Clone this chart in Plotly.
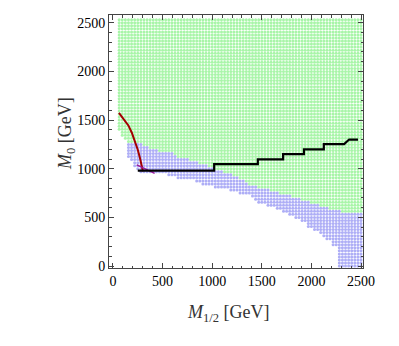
import numpy as np
import plotly.graph_objs as go

# scan grid: 31.25 GeV steps, columns k = 2..80 along M_1/2, rows j along M_0
grid_step = 31.25
col_index = list(range(2, 81))
top_row = 81

# lowest green row per column (grid units of M_0)
green_floor = [45, 43, 42, 41, 41, 41, 41, 41, 40, 40, 39, 39, 39, 38, 38, 38, 38, 38, 37, 36,
               36, 36, 36, 35, 35, 35, 34, 34, 34, 33, 33, 32, 32, 32, 31, 31, 31, 30, 30, 29,
               29, 28, 27, 27, 27, 26, 26, 26, 26, 25, 25, 25, 24, 24, 24, 24, 23, 23, 23, 22,
               22, 22, 21, 21, 21, 20, 20, 20, 19, 19, 19, 19, 18, 18, 18, 18, 18, 18, 18]
# lowest blue row per column (blue fills between blue_floor and green_floor)
blue_floor = [45, 43, 42, 36, 35, 33, 32, 31, 31, 31, 31, 31, 31, 31, 31, 31, 30, 30, 30, 29,
              29, 29, 29, 29, 29, 28, 28, 27, 27, 27, 27, 26, 26, 26, 26, 26, 25, 25, 25, 24,
              24, 24, 24, 23, 22, 21, 21, 21, 20, 20, 20, 19, 19, 18, 18, 17, 17, 16, 16, 15,
              15, 13, 13, 12, 12, 11, 10, 9, 9, 7, 7, 0, 0, 0, 0, 0, 0, 0, 0]

# red curve
red_x = [60, 110, 155, 190, 222, 250, 272, 290, 302]
red_y = [1575, 1510, 1445, 1370, 1280, 1195, 1110, 1030, 975]
# purple segment
purple_x = [240, 420]
purple_y = [1040, 952]
# black staircase
stair_x = [250, 1020, 1020, 1460, 1460, 1715, 1715, 1925, 1925, 2125, 2125, 2330, 2380, 2470]
stair_y = [980, 980, 1048, 1048, 1097, 1097, 1150, 1150, 1200, 1200, 1254, 1254, 1300, 1300]

gx, gy, bx, by = [], [], [], []
for k, g, b in zip(col_index, green_floor, blue_floor):
    for j in range(g, top_row + 1):
        gx.append(k * grid_step)
        gy.append(j * grid_step)
    for j in range(b, g):
        bx.append(k * grid_step)
        by.append(j * grid_step)

fig = go.Figure()
fig.add_trace(go.Scatter(x=gx, y=gy, mode='markers',
                         marker=dict(color='#a8f5a8', size=3.0, line=dict(width=0)),
                         hoverinfo='skip'))
fig.add_trace(go.Scatter(x=bx, y=by, mode='markers',
                         marker=dict(color='#aeaef6', size=3.0, line=dict(width=0)),
                         hoverinfo='skip'))
fig.add_trace(go.Scatter(x=red_x, y=red_y, mode='lines', line=dict(color='#a30000', width=2)))
fig.add_trace(go.Scatter(x=purple_x, y=purple_y, mode='lines', line=dict(color='#9a1a9a', width=1.5)))
fig.add_trace(go.Scatter(x=stair_x, y=stair_y, mode='lines', line=dict(color='black', width=2.2)))

axis_common = dict(showgrid=False, zeroline=False, showline=True, linecolor='#444', linewidth=1,
                   mirror='allticks', ticks='inside', ticklen=5, tickcolor='#444', automargin=False,
                   tickfont=dict(family='Liberation Serif', size=14, color='black'),
                   tickmode='array', tickvals=[0, 500, 1000, 1500, 2000, 2500],
                   minor=dict(ticks='inside', ticklen=2.5, dtick=100, tick0=0, tickcolor='#444', showgrid=False))

# page body adds an 8px offset, so margins are shifted by that amount
fig.update_layout(width=399, height=346,
                  margin=dict(l=101, r=44, t=7, b=86),
                  plot_bgcolor='white', paper_bgcolor='white',
                  showlegend=False,
                  xaxis=dict(range=[-40, 2520], **axis_common),
                  yaxis=dict(range=[-20, 2580], **axis_common),
                  annotations=[
                      dict(text='<i>M</i><sub>1/2</sub> [GeV]', xref='paper', yref='paper', x=0.47, y=-0.125,
                           xanchor='center', yanchor='top', showarrow=False,
                           font=dict(family='Liberation Serif', size=18, color='#333')),
                      dict(text='<i>M</i><sub>0</sub> [GeV]', xref='paper', yref='paper', x=-0.165, y=0.53,
                           xanchor='center', yanchor='middle', textangle=-90, showarrow=False,
                           font=dict(family='Liberation Serif', size=18, color='#333')),
                  ])

fig.write_html("out.html")
